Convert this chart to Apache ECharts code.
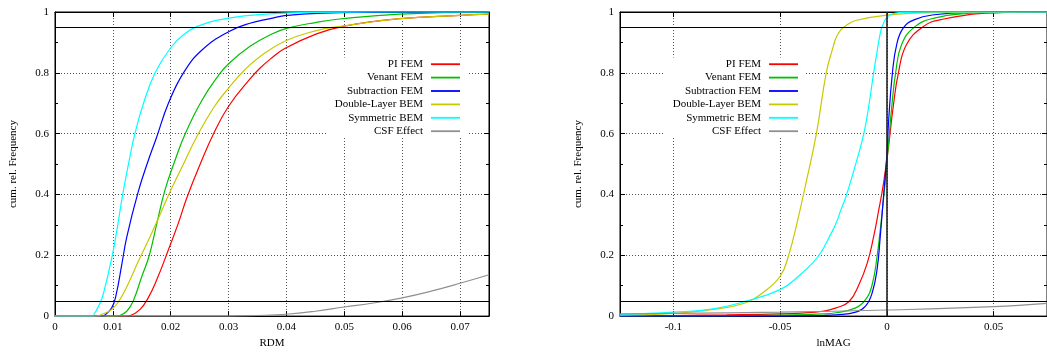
<!DOCTYPE html>
<html>
<head>
<meta charset="utf-8">
<script src="https://cdn.jsdelivr.net/npm/echarts@6/dist/echarts.min.js"></script>
<style>
  html, body { margin: 0; padding: 0; background: #fff; }
  #chart { width: 1047px; height: 354px; }
</style>
</head>
<body>
<div id="chart"></div>
<script>
// Cumulative relative frequency curves: [value, cumulative frequency]
// --- RDM ---
const rdmPiFem = [[0,0],[0.012,0],[0.013,0.002],[0.0147,0.022],[0.0161,0.06],[0.0176,0.12],[0.0196,0.218],[0.0213,0.305],[0.0228,0.39],[0.0251,0.50],[0.0274,0.60],[0.030,0.69],[0.0337,0.78],[0.0354,0.815],[0.0372,0.845],[0.0397,0.88],[0.0452,0.928],[0.0498,0.953],[0.0596,0.978],[0.07,0.989],[0.075,0.993]];
const rdmVenantFem = [[0,0],[0.0105,0],[0.0112,0.002],[0.0124,0.016],[0.0135,0.049],[0.015,0.13],[0.0163,0.20],[0.0176,0.305],[0.019,0.414],[0.0207,0.51],[0.0225,0.60],[0.0254,0.71],[0.0282,0.79],[0.030,0.83],[0.0337,0.887],[0.0372,0.925],[0.040,0.946],[0.0452,0.966],[0.0492,0.977],[0.0596,0.993],[0.075,0.9995]];
const rdmSubtractionFem = [[0,0],[0.0082,0],[0.0086,0.003],[0.0098,0.027],[0.0105,0.065],[0.0115,0.165],[0.0124,0.26],[0.0144,0.41],[0.016,0.505],[0.0175,0.585],[0.0196,0.70],[0.0222,0.80],[0.0254,0.875],[0.030,0.935],[0.0337,0.963],[0.0372,0.978],[0.0397,0.988],[0.0435,0.994],[0.0492,0.998],[0.06,1],[0.075,1]];
const rdmDoubleLayerBem = [[0,0],[0.0072,0],[0.0078,0.003],[0.0098,0.022],[0.0112,0.054],[0.0127,0.108],[0.0144,0.18],[0.0164,0.26],[0.0182,0.336],[0.0199,0.41],[0.0222,0.50],[0.0245,0.59],[0.0274,0.685],[0.030,0.75],[0.0328,0.81],[0.0354,0.853],[0.0397,0.904],[0.0452,0.939],[0.0490,0.952],[0.0596,0.978],[0.07,0.989],[0.075,0.993]];
const rdmSymmetricBem = [[0,0],[0.0063,0],[0.0066,0.002],[0.0078,0.044],[0.0084,0.076],[0.0099,0.20],[0.0107,0.283],[0.0117,0.40],[0.0127,0.50],[0.0138,0.60],[0.0153,0.70],[0.0173,0.80],[0.0199,0.88],[0.0222,0.925],[0.0245,0.952],[0.030,0.98],[0.0372,0.994],[0.045,0.999],[0.055,1],[0.075,1]];
const rdmCsfEffect = [[0,0],[0.03,0],[0.035,0.002],[0.04,0.006],[0.045,0.016],[0.05,0.03],[0.055,0.043],[0.06,0.06],[0.065,0.082],[0.07,0.108],[0.075,0.136]];

// --- lnMAG ---
const magPiFem = [[-0.125,0],[-0.1,0.002],[-0.075,0.004],[-0.05,0.007],[-0.04,0.01],[-0.03,0.016],[-0.0238,0.027],[-0.0177,0.048],[-0.013,0.105],[-0.0092,0.174],[-0.0062,0.261],[-0.0038,0.349],[-0.0015,0.44],[0.0008,0.56],[0.003,0.69],[0.0054,0.80],[0.0092,0.893],[0.0168,0.951],[0.0253,0.975],[0.0498,0.997],[0.075,1]];
const magVenantFem = [[-0.125,0],[-0.075,0.001],[-0.05,0.003],[-0.03,0.007],[-0.0238,0.011],[-0.0146,0.027],[-0.01,0.054],[-0.0069,0.103],[-0.0046,0.196],[-0.0026,0.316],[-0.0008,0.44],[0.0008,0.57],[0.0023,0.69],[0.0041,0.80],[0.0069,0.893],[0.013,0.951],[0.0222,0.98],[0.0375,0.995],[0.05,0.998],[0.075,1]];
const magSubtractionFem = [[-0.125,0],[-0.05,0],[-0.03,0.002],[-0.0238,0.004],[-0.0146,0.013],[-0.01,0.033],[-0.0069,0.076],[-0.0046,0.153],[-0.0031,0.261],[-0.0015,0.40],[0,0.53],[0.0008,0.64],[0.0026,0.80],[0.0046,0.893],[0.0077,0.948],[0.013,0.975],[0.0222,0.991],[0.0375,0.999],[0.075,1]];
const magDoubleLayerBem = [[-0.125,0.003],[-0.1,0.009],[-0.0813,0.022],[-0.066,0.044],[-0.0583,0.076],[-0.05,0.131],[-0.046,0.20],[-0.0414,0.327],[-0.0376,0.447],[-0.033,0.60],[-0.0284,0.80],[-0.0253,0.882],[-0.0238,0.915],[-0.0215,0.942],[-0.0192,0.955],[-0.0146,0.972],[0,0.99],[0.0222,0.998],[0.075,1]];
const magSymmetricBem = [[-0.125,0.005],[-0.1,0.013],[-0.0813,0.024],[-0.066,0.049],[-0.05,0.087],[-0.0414,0.131],[-0.0322,0.196],[-0.0261,0.272],[-0.0238,0.305],[-0.0215,0.35],[-0.0192,0.392],[-0.0146,0.50],[-0.0108,0.60],[-0.0085,0.69],[-0.0062,0.80],[-0.0046,0.87],[-0.0031,0.93],[-0.0022,0.952],[0,0.982],[0.003,0.995],[0.01,0.999],[0.02,1],[0.075,1]];
const magCsfEffect = [[-0.125,0.007],[-0.1,0.009],[-0.05,0.013],[0,0.02],[0.05,0.031],[0.075,0.042]];

const seriesNames = ['PI FEM', 'Venant FEM', 'Subtraction FEM', 'Double-Layer BEM', 'Symmetric BEM', 'CSF Effect'];
const seriesColors = ['#ff0000', '#00c000', '#0000ff', '#c8c800', '#00ffff', '#909090'];
const rdmCurves = [rdmPiFem, rdmVenantFem, rdmSubtractionFem, rdmDoubleLayerBem, rdmSymmetricBem, rdmCsfEffect];
const magCurves = [magPiFem, magVenantFem, magSubtractionFem, magDoubleLayerBem, magSymmetricBem, magCsfEffect];

const rdmTicks = [0, 0.01, 0.02, 0.03, 0.04, 0.05, 0.06, 0.07];
const magTicks = [-0.1, -0.05, 0, 0.05];
const referenceLevels = [0.05, 0.95];

const FONT = "'Liberation Serif', 'DejaVu Serif', serif";
const txt = { fontFamily: FONT, fontSize: 11, color: '#000' };

function xAxisPair(gi, min, max, ticks, name) {
  const base = {
    type: 'value', gridIndex: gi, min: min, max: max,
    axisLine: { show: true, onZero: false, lineStyle: { color: '#000', width: 1 } },
    axisTick: { show: true, inside: true, length: 5, customValues: ticks, lineStyle: { color: '#000' } }
  };
  return [
    Object.assign({}, base, {
      position: 'bottom', name: name, nameLocation: 'middle', nameGap: 20, nameTextStyle: txt,
      axisLabel: Object.assign({ customValues: ticks, margin: 6 }, txt),
      splitLine: { show: true, lineStyle: { color: '#555', type: [1, 2], width: 1 } }
    }),
    Object.assign({}, base, {
      position: 'top', axisLabel: { show: false }, splitLine: { show: false }
    })
  ];
}

function yAxisPair(gi) {
  const base = {
    type: 'value', gridIndex: gi, min: 0, max: 1, interval: 0.2,
    axisLine: { show: true, onZero: false, lineStyle: { color: '#000', width: 1 } },
    axisTick: { show: true, inside: true, length: 5, lineStyle: { color: '#000' } },
    minorTick: { show: true, splitNumber: 2, length: 3, lineStyle: { color: '#000' } }
  };
  return [
    Object.assign({}, base, {
      position: 'left', name: 'cum. rel. Frequency', nameLocation: 'middle', nameGap: 36, nameTextStyle: txt,
      axisLabel: Object.assign({ margin: 6 }, txt),
      splitLine: { show: true, lineStyle: { color: '#555', type: [1, 2], width: 1 } }
    }),
    Object.assign({}, base, {
      position: 'right', axisLabel: { show: false }, splitLine: { show: false }
    })
  ];
}

function curveSeries(curves, axisIdx, extraLines) {
  return curves.map(function (pts, i) {
    const s = {
      type: 'line', name: seriesNames[i], xAxisIndex: axisIdx, yAxisIndex: axisIdx,
      data: pts, showSymbol: false, symbol: 'none', smooth: 0.45,
      lineStyle: { color: seriesColors[i], width: 1.2 },
      itemStyle: { color: seriesColors[i] },
      z: 3
    };
    if (i === curves.length - 1) {
      s.markLine = {
        silent: true, symbol: ['none', 'none'], label: { show: false }, animation: false,
        lineStyle: { color: '#000', type: 'solid', width: 1 },
        data: referenceLevels.map(function (v) { return { yAxis: v }; }).concat(extraLines || [])
      };
    }
    return s;
  });
}

function legendAt(rightPx) {
  return {
    data: seriesNames, orient: 'vertical', align: 'right', right: rightPx, top: 57.5,
    icon: 'rect', itemWidth: 29, itemHeight: 1.8, itemGap: 0,
    backgroundColor: '#fff', padding: [0, 7, 0, 8], selectedMode: false,
    textStyle: Object.assign({ lineHeight: 13.4, padding: [0, 3, 0, 0] }, txt),
    z: 10
  };
}

const chart = echarts.init(document.getElementById('chart'), null, { renderer: 'canvas' });
chart.setOption({
  animation: false,
  backgroundColor: '#fff',
  grid: [
    { left: 55, top: 12, width: 434, height: 307, show: true, borderColor: '#000', borderWidth: 1 },
    { left: 620, top: 12, width: 435, height: 307, show: true, borderColor: '#000', borderWidth: 1 }
  ],
  xAxis: xAxisPair(0, 0, 0.075, rdmTicks, 'RDM').concat(xAxisPair(1, -0.125, 0.075, magTicks, 'lnMAG')),
  yAxis: yAxisPair(0).concat(yAxisPair(1)),
  legend: [legendAt(580), legendAt(242)],
  series: curveSeries(rdmCurves, 0, []).concat(
    curveSeries(magCurves, 2, [{ xAxis: 0, lineStyle: { color: '#222', width: 1.6 } }])
  )
});
</script>
</body>
</html>
